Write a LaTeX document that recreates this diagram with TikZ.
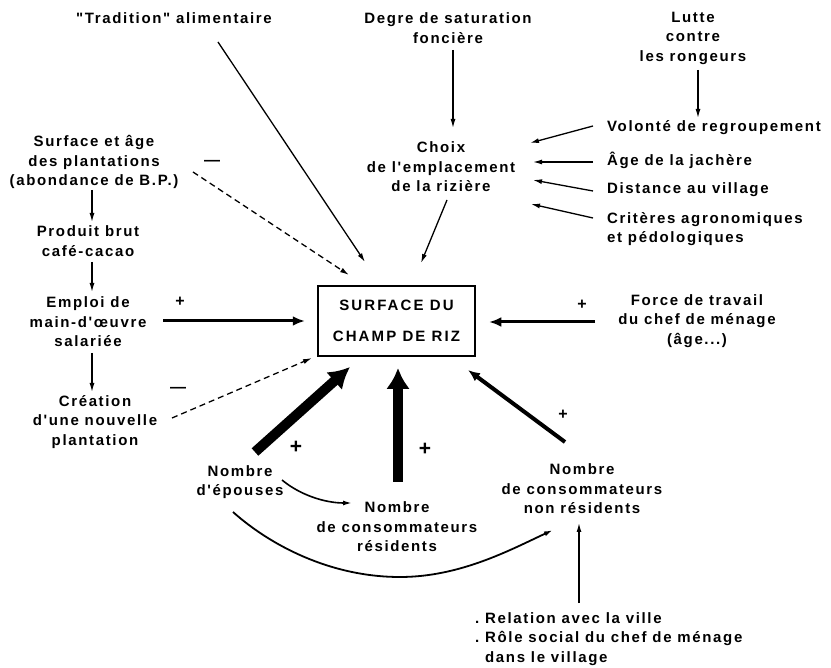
\documentclass[tikz,border=0pt]{standalone}
\usepackage{fontspec}
\setmainfont{Liberation Sans}[LetterSpace=11,UprightFont=* Bold,Ligatures=TeXOff]
\usetikzlibrary{arrows.meta}
\begin{document}
\begin{tikzpicture}[x=1pt,y=-1pt,
 lbl/.style={align=center,inner sep=0pt,font=\fontsize{15}{19.5}\selectfont},
 lbll/.style={lbl,align=left,anchor=west},
 sgn/.style={inner sep=0pt,font=\fontsize{16}{16}\selectfont},
 bigsgn/.style={inner sep=0pt,font=\fontsize{21}{21}\selectfont},
 arr/.style={line width=1.3pt,-{Latex[length=9pt,width=5pt]}},
 darr/.style={arr,dash pattern=on 6pt off 4pt},
 marr/.style={line width=3pt,-{Latex[length=12pt,width=10pt]}},
 harr/.style={line width=10pt,-{Latex[length=21pt,width=24pt]}},
 mainbox/.style={draw,line width=2.5pt,minimum width=157pt,minimum height=70pt,inner sep=0pt,align=center,font=\fontsize{15}{31}\selectfont\addfontfeature{LetterSpace=14}}]
\useasboundingbox (0,0) rectangle (831,668);

% nodes
\node[lbl] (trad) at (174,18) {"Tradition" alimentaire};
\node[lbl] (deg) at (448,28) {Degre de saturation\\foncière};
\node[lbl] (lutte) at (693,38) {Lutte\\contre\\les rongeurs};
\node[lbl] (choix) at (441,167) {Choix\\de l'emplacement\\de la rizière};
\node[lbll] (vol) at (607,128) {Volonté de regroupement};
\node[lbll] (age) at (607,160) {Âge de la jachère};
\node[lbll] (dist) at (607,190) {Distance au village};
\node[lbll] (crit) at (607,229) {Critères agronomiques\\et pédologiques};
\node[lbl] (surf) at (94,162) {Surface et âge\\des plantations\\(abondance de B.P.)};
\node[lbl] (prod) at (88,241) {Produit brut\\café-cacao};
\node[lbl] (empl) at (88,322) {Emploi de\\main-d'œuvre\\salariée};
\node[lbl] (crea) at (95,422) {Création\\d'une nouvelle\\plantation};
\node[mainbox] (box) at (396.5,321) {SURFACE DU\\CHAMP DE RIZ};
\node[lbl] (force) at (697,321) {Force de travail\\du chef de ménage\\(âge...)};
\node[lbl] (nbep) at (240,482) {Nombre\\d'épouses};
\node[lbl] (nbres) at (397,527) {Nombre\\de consommateurs\\résidents};
\node[lbl] (nbnon) at (582,489) {Nombre\\de consommateurs\\non résidents};
\node[lbll,anchor=west] (rel) at (475,639) {.\ Relation avec la ville\\.\ Rôle social du chef de ménage\\\phantom{.\ }dans le village};

% signs
\node[sgn] (m1) at (212,163) {—};
\node[sgn] (m2) at (178,390) {—};
\node[sgn] (p1) at (180,302) {+};
\node[sgn] (p2) at (582,305) {+};
\node[sgn] (p3) at (563,415) {+};
\node[bigsgn] (p4) at (296,447) {+};
\node[bigsgn] (p5) at (425,449) {+};

% connectors
\draw[arr] ([shift={(5,22)}]deg.center) -- ([shift={(12,-39)}]choix.center);
\draw[arr] ([shift={(5,32)}]lutte.center) -- ([shift={(91,-10)}]vol.west);
\draw[arr] ([shift={(-14,-2)}]vol.west) -- ([shift={(89,-24)}]choix.center);
\draw[arr] ([shift={(-14,2)}]age.west) -- ([shift={(92,-5)}]choix.center);
\draw[arr] ([shift={(-14,1)}]dist.west) -- ([shift={(92,13)}]choix.center);
\draw[arr] ([shift={(-14,-11)}]crit.west) -- ([shift={(90,37)}]choix.center);
\draw[arr] ([shift={(6,33)}]choix.center) -- ([shift={(24.5,-58)}]box.center);
\draw[arr] ([shift={(44,24)}]trad.center) -- ([shift={(-31.5,-59)}]box.center);
\draw[darr] ([shift={(99,10)}]surf.center) -- ([shift={(-47.5,-46)}]box.center);
\draw[arr] ([shift={(-2,28)}]surf.center) -- ([shift={(4,-19)}]prod.center);
\draw[arr] ([shift={(4,21)}]prod.center) -- ([shift={(4,-30)}]empl.center);
\draw[marr] ([shift={(75,-1)}]empl.center) -- ([shift={(-12,0)}]box.west);
\draw[arr] ([shift={(4,31)}]empl.center) -- ([shift={(-3,-30)}]crea.center);
\draw[darr] ([shift={(77,-4)}]crea.center) -- ([shift={(-84.5,37)}]box.center);
\draw[marr] ([shift={(-102,1)}]force.center) -- ([shift={(13,1)}]box.east);
\draw[marr,line width=4pt] ([shift={(-17,-47)}]nbnon.center) -- ([shift={(71.5,49)}]box.center);
\draw[harr] ([shift={(15,-30)}]nbep.center) -- ([shift={(-46.5,46)}]box.center);
\draw[harr] ([shift={(1,-45)}]nbres.center) -- ([shift={(1.5,47)}]box.center);
\draw[arr,line width=1.6pt] ([shift={(42,-2)}]nbep.center) .. controls +(18,15) and +(-27,0) .. ([shift={(-45,-24)}]nbres.center);
\draw[arr,line width=1.8pt] ([shift={(-7,30)}]nbep.center) .. controls +(37,33) and +(-70,0) .. (400,577) coordinate (low)
  .. controls +(60,0) and +(-43,20) .. ([shift={(-29,41)}]nbnon.center);
\draw[arr] ([shift={(104,-36)}]rel.west) -- ([shift={(-3,34)}]nbnon.center);
\end{tikzpicture}
\end{document}
